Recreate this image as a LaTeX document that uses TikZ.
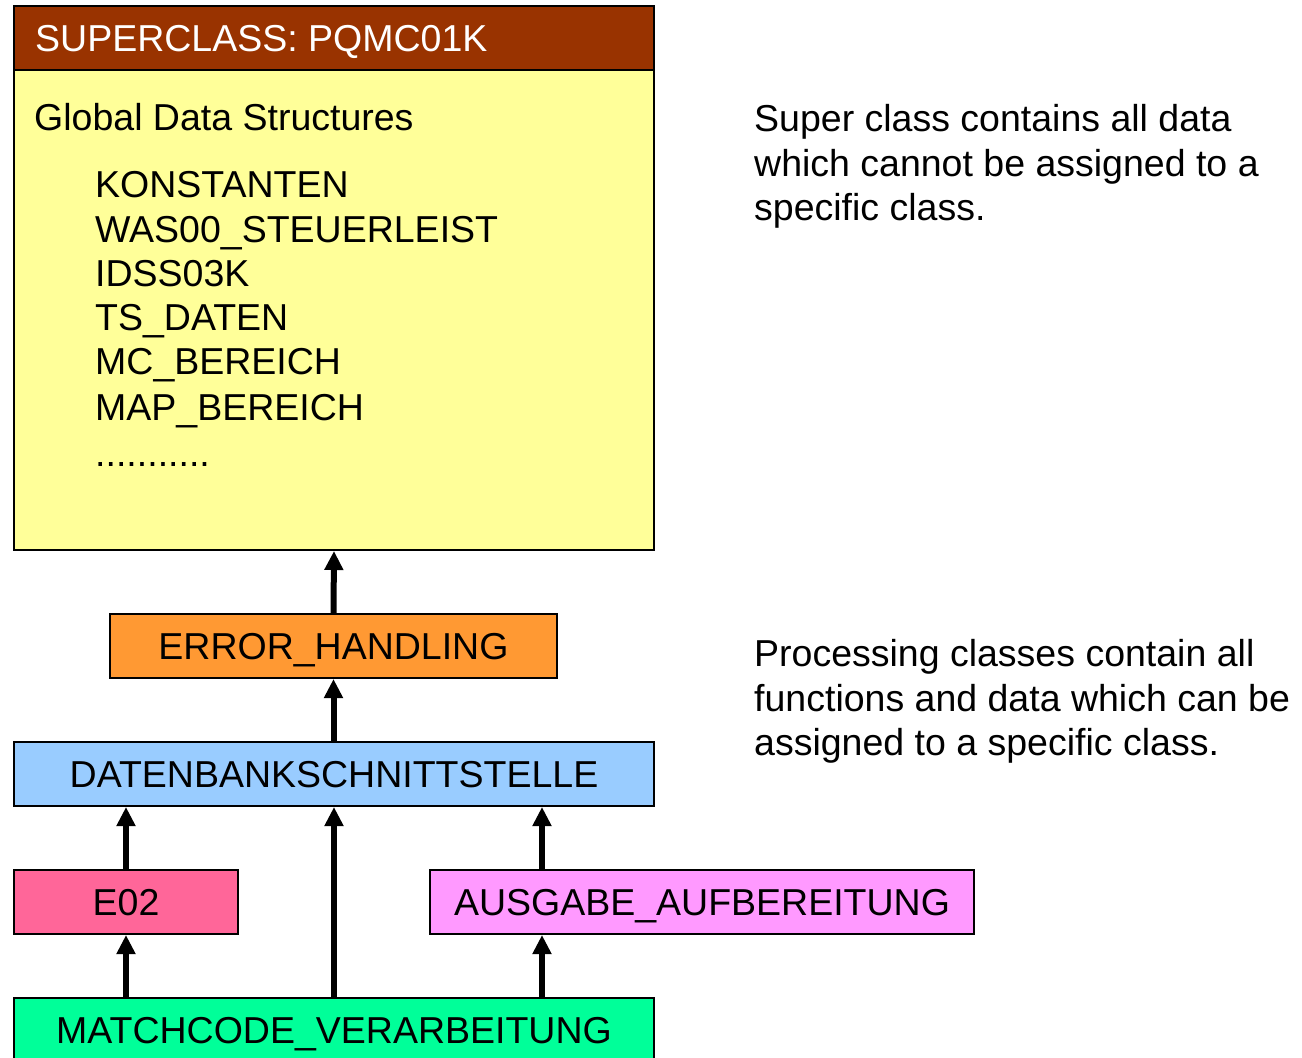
\documentclass[tikz,border=0pt]{standalone}
\usepackage{fontspec}
\setmainfont{Liberation Sans}
\usetikzlibrary{arrows.meta}
\definecolor{hdr}{HTML}{993300}
\definecolor{bodyc}{HTML}{FFFF99}
\definecolor{errc}{HTML}{FF9933}
\definecolor{dbc}{HTML}{99CCFF}
\definecolor{e02c}{HTML}{FF6699}
\definecolor{ausc}{HTML}{FF99FF}
\definecolor{mcc}{HTML}{00FF99}
\tikzset{
  cls/.style={draw=black, line width=2pt, rectangle, inner sep=0pt,
    minimum height=64pt, text height=26.8pt, text depth=0pt,
    font=\fontsize{37.5}{44}\selectfont},
  txt/.style={anchor=base west, inner sep=0pt, font=\fontsize{37.5}{44}\selectfont},
  up/.style={line width=6pt, -{Triangle[length=19pt,width=18pt]}}
}
\begin{document}
\begin{tikzpicture}[x=1pt,y=-1pt]
\useasboundingbox (0,0) rectangle (1302,1058);
\clip (0,0) rectangle (1302,1058);
% superclass
\node[cls, fill=bodyc, minimum width=640pt, minimum height=544pt] (super) at (334,278) {};
\node[cls, fill=hdr, minimum width=640pt] (hdr) at (334,38) {};
\node[txt, text=white] (hdrt) at (35,51) {SUPERCLASS: PQMC01K};
\node[txt] (gds) at (34,130) {Global Data Structures};
\node[txt] (l1) at (95,197) {KONSTANTEN};
\node[txt] (l2) at (95,242) {WAS00\_STEUERLEIST};
\node[txt] (l3) at (95,286) {IDSS03K};
\node[txt] (l4) at (95,330) {TS\_DATEN};
\node[txt] (l5) at (95,374) {MC\_BEREICH};
\node[txt] (l6) at (95,420) {MAP\_BEREICH};
\node[txt] (l7) at (95,466) {...........};
% processing classes
\node[cls, fill=errc, minimum width=447pt] (err) at (333.5,646) {ERROR\_HANDLING};
\node[cls, fill=dbc, minimum width=640pt] (db) at (334,774) {DATENBANKSCHNITTSTELLE};
\node[cls, fill=e02c, minimum width=224pt] (e02) at (126,902) {E02};
\node[cls, fill=ausc, minimum width=544pt] (aus) at (702,902) {AUSGABE\_AUFBEREITUNG};
\node[cls, fill=mcc, minimum width=640pt] (mc) at (334,1030) {MATCHCODE\_VERARBEITUNG};
% arrows
\draw[up] (err.north) -- (super.south);
\draw[up] (db.north -| err.north) -- (err.south);
\draw[up] (e02.north) -- (e02.north |- db.south);
\coordinate (ausx) at ([xshift=-160pt]aus.north);
\draw[up] (ausx) -- (ausx |- db.south);
\draw[up] (mc.north) -- (db.south);
\draw[up] (mc.north -| e02.south) -- (e02.south);
\coordinate (ausy) at ([xshift=-160pt]aus.south);
\draw[up] (ausy |- mc.north) -- (ausy);
% right texts
\node[txt] (r1) at (754,131) {Super class contains all data};
\node[txt] (r2) at (754,176) {which cannot be assigned to a};
\node[txt] (r3) at (754,220) {specific class.};
\node[txt] (p1) at (754,666) {Processing classes contain all};
\node[txt] (p2) at (754,711) {functions and data which can be};
\node[txt] (p3) at (754,755) {assigned to a specific class.};
\end{tikzpicture}
\end{document}
